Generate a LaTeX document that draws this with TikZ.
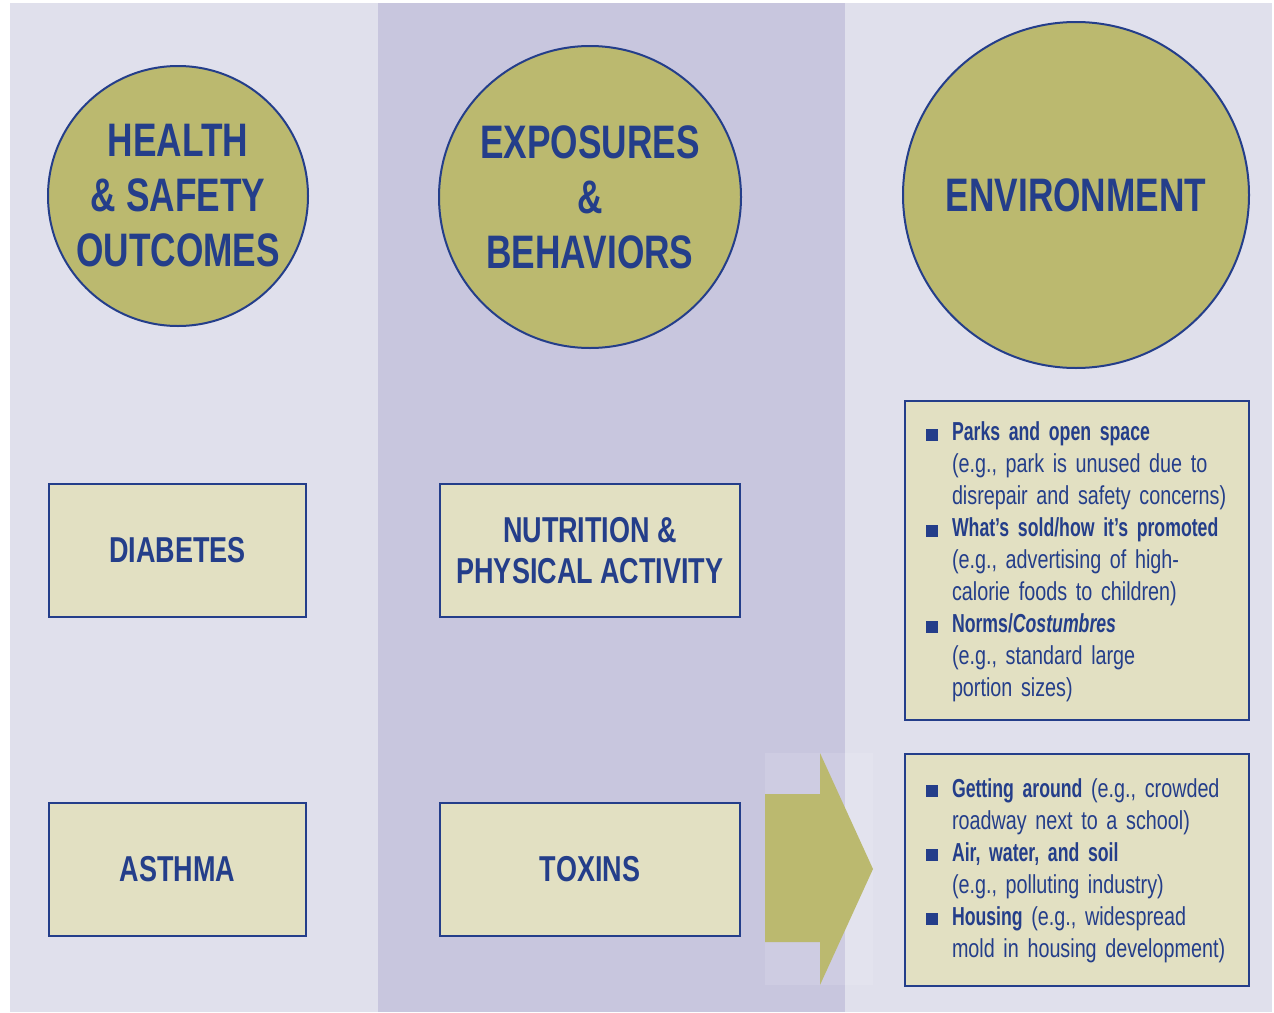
\documentclass[tikz,border=0pt]{standalone}
\usepackage{fontspec}
\setmainfont{Liberation Sans}[FakeStretch=0.75]
\newfontfamily\bodyfont{Liberation Sans}[FakeStretch=0.76, WordSpace=0.8,
    BoldFeatures={FakeStretch=0.68}, BoldItalicFeatures={FakeStretch=0.68}]
\definecolor{navy}{RGB}{36,62,138}
\definecolor{panelc}{RGB}{224,224,236}
\definecolor{midc}{RGB}{200,198,222}
\definecolor{olive}{RGB}{187,185,111}
\definecolor{boxc}{RGB}{226,224,194}
\newcommand{\sq}{\makebox[26pt][l]{\rule{12pt}{12pt}}}
\newcommand{\envitem}{\par\hangindent=26pt\relax\hangafter=1\relax\sq}
\newcommand{\hd}[1]{\textbf{#1}}

\begin{document}
\begin{tikzpicture}[x=1pt,y=-1pt]
                        \tikzstyle{bubble}=[circle, draw=navy, line width=2pt, fill=olive, text=navy, align=center,
                            font=\fontsize{47}{55}\selectfont\bfseries]
                        \tikzstyle{factor}=[draw=navy, line width=2pt, fill=boxc, text=navy, align=center,
                            minimum height=133, font=\fontsize{36}{41}\selectfont\bfseries]
                        \tikzstyle{envbox}=[draw=navy, line width=2pt, fill=boxc, text=navy,
                            minimum width=344, text width=310, inner xsep=17,
                            font=\bodyfont\fontsize{26}{32}\selectfont]
                        \useasboundingbox (0,0) rectangle (1274,1012);
                        \fill[panelc] (10,3) rectangle (1272,1012);
                        \fill[midc] (378,3) rectangle (845,1012);
                        \node[bubble, minimum size=260] (health) at (178,196) {HEALTH\\\& SAFETY\\OUTCOMES};
                        \node[bubble, minimum size=302] (expo) at (590,197) {EXPOSURES\\\&\\BEHAVIORS};
                        \node[bubble, minimum size=346] (env) at (1076,195) {ENVIRONMENT};
                        \node[factor, minimum width=257] (diab) at (177.5,550.5) {DIABETES};
                        \node[factor, minimum width=257] (asth) at (177.5,869) {ASTHMA};
                        \node[factor, minimum width=300] (nutr) at (590,550.5) {NUTRITION \&\\PHYSICAL ACTIVITY};
                        \node[factor, minimum width=300] (tox) at (590,869) {TOXINS};
                        \fill[white, opacity=0.12] (765,753) rectangle (873,985);
                        \fill[olive] (765,794) -- (820,794) -- (820,753) -- (873,869)
                            -- (820,985) -- (820,942) -- (765,942) -- cycle;
                        \node[envbox, minimum height=319] (envA) at (1077,560.5) {%
                            \raggedright\parindent=0pt\parskip=0pt\leftskip=4pt\relax
                            \envitem\hd{Parks and open space}\newline
                                (e.g., park is unused due to\newline disrepair and safety concerns)
                            \envitem\hd{What’s sold/how it’s promoted}\newline
                                (e.g., advertising of high-\newline calorie foods to children)
                            \envitem\hd{Norms/\textit{Costumbres}}\newline
                                (e.g., standard large\newline portion sizes)\par\vspace{10pt}};
                        \node[envbox, minimum height=232] (envB) at (1077,870) {%
                            \raggedright\parindent=0pt\parskip=0pt\leftskip=4pt\relax
                            \envitem\hd{Getting around} (e.g., crowded\newline
                                roadway next to a school)
                            \envitem\hd{Air, water, and soil}\newline
                                (e.g., polluting industry)
                            \envitem\hd{Housing} (e.g., widespread\newline
                                mold in housing development)\par\vspace{12pt}};
                    \end{tikzpicture}
\end{document}
